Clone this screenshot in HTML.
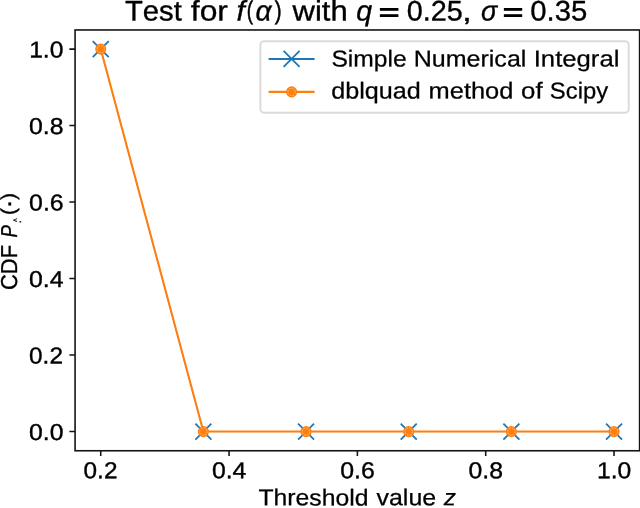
<!DOCTYPE html>
<html lang="en"><head><meta charset="utf-8"><title>Test for f(α) with q = 0.25, σ = 0.35</title>
<style>html,body{margin:0;padding:0;background:#fff}body{width:640px;height:508px;overflow:hidden}svg{display:block}text{font-family:"Liberation Sans",sans-serif;fill:#000;stroke:#000;stroke-width:0.25px;font-kerning:none;white-space:pre;text-rendering:geometricPrecision}.i{font-style:italic}#ticklabels text{stroke-width:0.38px}#title text{stroke-width:0.35px}#ylabel text{stroke-width:0.36px}</style></head><body>
<svg width="640" height="508" viewBox="0 0 640 508">
<defs><filter id="soft" x="0" y="0" width="640" height="508" filterUnits="userSpaceOnUse" color-interpolation-filters="sRGB"><feOffset dx="0" dy="0"/></filter></defs>
<g filter="url(#soft)">
<rect x="-10" y="-10" width="660" height="528" fill="#fff"/>
<g id="series">
<path d="M100.73 49.10L203.39 431.58L306.05 431.58L408.72 431.58L511.38 431.58L614.04 431.58" fill="none" stroke="#1f77b4" stroke-width="1.00" stroke-linejoin="round"/>
<path d="M92.73 41.10L108.73 57.10M92.73 57.10L108.73 41.10" stroke="#1f77b4" stroke-width="1.80" fill="none" stroke-linecap="butt"/>
<path d="M195.39 423.58L211.39 439.58M195.39 439.58L211.39 423.58" stroke="#1f77b4" stroke-width="1.80" fill="none" stroke-linecap="butt"/>
<path d="M298.05 423.58L314.05 439.58M298.05 439.58L314.05 423.58" stroke="#1f77b4" stroke-width="1.80" fill="none" stroke-linecap="butt"/>
<path d="M400.72 423.58L416.72 439.58M400.72 439.58L416.72 423.58" stroke="#1f77b4" stroke-width="1.80" fill="none" stroke-linecap="butt"/>
<path d="M503.38 423.58L519.38 439.58M503.38 439.58L519.38 423.58" stroke="#1f77b4" stroke-width="1.80" fill="none" stroke-linecap="butt"/>
<path d="M606.04 423.58L622.04 439.58M606.04 439.58L622.04 423.58" stroke="#1f77b4" stroke-width="1.80" fill="none" stroke-linecap="butt"/>
<path d="M100.73 49.10L203.39 431.58L306.05 431.58L408.72 431.58L511.38 431.58L614.04 431.58" fill="none" stroke="#ff7f0e" stroke-width="2.08" stroke-linejoin="round"/>
<circle cx="100.73" cy="49.10" r="5.55" fill="#ff7f0e"/><circle cx="100.73" cy="49.10" r="3.7" fill="none" stroke="#ffc692" stroke-width="0.9" stroke-dasharray="1.6 1.3"/>
<circle cx="203.39" cy="431.58" r="5.55" fill="#ff7f0e"/><circle cx="203.39" cy="431.58" r="3.7" fill="none" stroke="#ffc692" stroke-width="0.9" stroke-dasharray="1.6 1.3"/>
<circle cx="306.05" cy="431.58" r="5.55" fill="#ff7f0e"/><circle cx="306.05" cy="431.58" r="3.7" fill="none" stroke="#ffc692" stroke-width="0.9" stroke-dasharray="1.6 1.3"/>
<circle cx="408.72" cy="431.58" r="5.55" fill="#ff7f0e"/><circle cx="408.72" cy="431.58" r="3.7" fill="none" stroke="#ffc692" stroke-width="0.9" stroke-dasharray="1.6 1.3"/>
<circle cx="511.38" cy="431.58" r="5.55" fill="#ff7f0e"/><circle cx="511.38" cy="431.58" r="3.7" fill="none" stroke="#ffc692" stroke-width="0.9" stroke-dasharray="1.6 1.3"/>
<circle cx="614.04" cy="431.58" r="5.55" fill="#ff7f0e"/><circle cx="614.04" cy="431.58" r="3.7" fill="none" stroke="#ffc692" stroke-width="0.9" stroke-dasharray="1.6 1.3"/>
</g>
<g id="axes" stroke="#141414" stroke-width="1.60" fill="none">
<rect x="75.07" y="29.97" width="564.53" height="420.79"/>
<path d="M100.73 450.76v5.30M229.06 450.76v5.30M357.38 450.76v5.30M485.71 450.76v5.30M614.04 450.76v5.30M75.07 431.58h-5.70M75.07 355.09h-5.70M75.07 278.59h-5.70M75.07 202.09h-5.70M75.07 125.59h-5.70M75.07 49.10h-5.70" stroke-width="1.55"/>
</g>
<g id="ticklabels">
<text transform="translate(83.58 478.30) rotate(0.03) scale(1.0584 1)" font-size="23.00">0.2</text>
<text transform="translate(211.89 478.30) rotate(0.03) scale(1.0768 1)" font-size="23.00">0.4</text>
<text transform="translate(340.21 478.30) rotate(0.03) scale(1.0806 1)" font-size="23.00">0.6</text>
<text transform="translate(468.54 478.30) rotate(0.03) scale(1.0765 1)" font-size="23.00">0.8</text>
<text transform="translate(596.94 478.30) rotate(0.03) scale(1.0714 1)" font-size="23.00">1.0</text>
<text transform="translate(29.08 439.93) rotate(0.03) scale(1.0732 1)" font-size="23.00">0.0</text>
<text transform="translate(29.09 363.44) rotate(0.03) scale(1.0581 1)" font-size="23.00">0.2</text>
<text transform="translate(29.07 286.94) rotate(0.03) scale(1.0765 1)" font-size="23.00">0.4</text>
<text transform="translate(29.07 210.44) rotate(0.03) scale(1.0802 1)" font-size="23.00">0.6</text>
<text transform="translate(29.07 133.94) rotate(0.03) scale(1.0762 1)" font-size="23.00">0.8</text>
<text transform="translate(29.14 57.45) rotate(0.03) scale(1.0711 1)" font-size="23.00">1.0</text>
</g>
<g id="title">
<text transform="translate(125.05 20.50) rotate(0.03) scale(1.0303 1)" font-size="28.30">Test</text>
<text transform="translate(190.83 20.50) rotate(0.03) scale(1.1235 1)" font-size="28.30">for</text>
<text transform="translate(236.49 20.50) rotate(0.03) scale(1.0583 1)" font-size="28.30"><tspan class="i">f</tspan></text>
<text transform="translate(246.73 19.01) rotate(0.03) scale(0.7382 1)" font-size="25.55" style="stroke-width:0.55px">(</text>
<text transform="translate(255.58 20.50) rotate(0.03) scale(0.9949 1)" font-size="28.30"><tspan class="i">α</tspan></text>
<text transform="translate(274.71 19.01) rotate(0.03) scale(0.8037 1)" font-size="25.55" style="stroke-width:0.55px">)</text>
<text transform="translate(292.49 20.50) rotate(0.03) scale(1.0959 1)" font-size="28.30">with</text>
<text transform="translate(356.29 20.50) rotate(0.03) scale(1.0072 1)" font-size="28.30"><tspan class="i">q</tspan></text>
<text transform="translate(378.76 20.72) rotate(0.03) scale(1.4167 1)" font-size="25.13" style="stroke-width:0.9px">=</text>
<text transform="translate(406.68 20.50) rotate(0.03) scale(1.0173 1)" font-size="28.30">0.25</text>
<text transform="translate(461.90 20.63) rotate(0.03) scale(1.3959 1)" font-size="25.55" style="stroke-width:0.3px">,</text>
<text transform="translate(481.06 20.50) rotate(0.03) scale(0.9496 1)" font-size="28.30"><tspan class="i">σ</tspan></text>
<text transform="translate(502.78 20.72) rotate(0.03) scale(1.4003 1)" font-size="25.13" style="stroke-width:0.9px">=</text>
<text transform="translate(530.30 20.50) rotate(0.03) scale(1.0355 1)" font-size="28.30">0.35</text>
</g>
<g id="xlabel">
<text transform="translate(258.44 505.35) rotate(0.03) scale(1.0749 1)" font-size="23.00">Threshold</text>
<text transform="translate(376.53 505.35) rotate(0.03) scale(1.0839 1)" font-size="23.00">value</text>
<text transform="translate(443.70 505.35) rotate(0.03) scale(1.0546 1)" font-size="23.00"><tspan class="i">z</tspan></text>
</g>
<g id="ylabel">
<text transform="translate(16.60 290.12) rotate(-90) scale(0.9561 1)" font-size="23.00">CDF</text>
<text transform="translate(16.60 237.47) rotate(-90) scale(0.8006 1)" font-size="23.00"><tspan class="i">P</tspan></text>
<text transform="translate(20.30 221.74) rotate(-90) scale(0.7578 1)" font-size="9.48">^</text>
<text transform="translate(20.60 223.55) rotate(-90) scale(1.0958 1)" font-size="11.50">.</text>
<text transform="translate(15.24 214.96) rotate(-90) scale(1.0147 1)" font-size="20.07" style="stroke-width:0.45px">(</text>
<text transform="translate(15.50 208.66) rotate(-90) scale(1.2328 1)" font-size="23.00">·</text>
<text transform="translate(15.24 199.72) rotate(-90) scale(1.0147 1)" font-size="20.07" style="stroke-width:0.45px">)</text>
</g>
<g id="legend">
<rect x="260.40" y="41.20" width="368.30" height="71.50" rx="3.6" ry="3.6" fill="#fff" fill-opacity="0.8" stroke="#dadada" stroke-width="1.9"/>
<path d="M268.60 58.95H314.60" stroke="#1f77b4" stroke-width="2.08"/>
<path d="M283.60 50.95L299.60 66.95M283.60 66.95L299.60 50.95" stroke="#1f77b4" stroke-width="1.80" fill="none" stroke-linecap="butt"/>
<path d="M268.60 91.90H314.60" stroke="#ff7f0e" stroke-width="2.08"/>
<circle cx="291.60" cy="91.90" r="5.55" fill="#ff7f0e"/><circle cx="291.60" cy="91.90" r="3.7" fill="none" stroke="#ffc692" stroke-width="0.9" stroke-dasharray="1.6 1.3"/>
<text transform="translate(331.42 66.45) rotate(0.03) scale(1.0707 1)" font-size="23.00">Simple</text>
<text transform="translate(413.76 66.45) rotate(0.03) scale(1.0876 1)" font-size="23.00">Numerical</text>
<text transform="translate(533.70 66.45) rotate(0.03) scale(1.1176 1)" font-size="23.00">Integral</text>
<text transform="translate(331.14 98.50) rotate(0.03) scale(1.0946 1)" font-size="23.00">dblquad</text>
<text transform="translate(428.60 98.50) rotate(0.03) scale(1.1050 1)" font-size="23.00">method</text>
<text transform="translate(521.07 98.50) rotate(0.03) scale(1.1212 1)" font-size="23.00">of</text>
<text transform="translate(549.85 98.50) rotate(0.03) scale(1.0354 1)" font-size="23.00">Scipy</text>
</g>
</g>
</svg></body></html>
